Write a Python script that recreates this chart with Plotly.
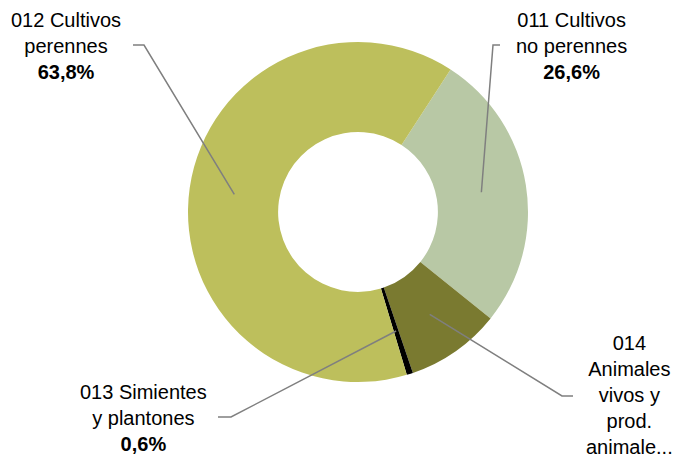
import math
import plotly.graph_objects as go

# ---- data ----
categories = ["011 Cultivos no perennes", "014 Animales vivos y prod. animales",
              "013 Simientes y plantones", "012 Cultivos perennes"]
shares = [26.6, 9.0, 0.6, 63.8]
label_texts = ["011 Cultivos<br>no perennes<br><b>26,6%</b>",
               "014<br>Animales<br>vivos y<br>prod.<br>animale...",
               "013 Simientes<br>y plantones<br><b>0,6%</b>",
               "012 Cultivos<br>perennes<br><b>63,8%</b>"]
colors = ["#B8C8A5", "#7A7A30", "#000000", "#BDBF5C"]

# ---- layout constants (pixels) ----
W, H = 675, 457
CX, CY, R = 358, 212, 170
HOLE = 0.47
ROT = 33
FONT = "Liberation Sans"
label_pos = [(571, 46), (629, 395), (143, 418), (66, 46)]
leader_start = [(500, 45), (573, 396), (218, 417), (133, 45)]
leader_elbow = [(493, 45), (562, 396), (231, 417), (144, 45)]

def px2paper(x, y):
    return x / W, (H - y) / H

cx0, cy0 = px2paper(CX - R, CY + R)
cx1, cy1 = px2paper(CX + R, CY - R)

fig = go.Figure(go.Pie(
    labels=categories, values=shares, sort=False, direction="clockwise",
    rotation=ROT, hole=HOLE, textinfo="none", hoverinfo="label+percent",
    marker=dict(colors=colors, line=dict(width=0)),
    domain=dict(x=[cx0, cx1], y=[cy0, cy1]),
    showlegend=False,
))

total = sum(shares)
cum = 0.0
shapes, annotations = [], []
rmid = R * (1 + HOLE) / 2
for i, v in enumerate(shares):
    mid = ROT + (cum + v / 2) / total * 360
    cum += v
    a = math.radians(mid)
    ex, ey = CX + rmid * math.sin(a), CY - rmid * math.cos(a)
    p0 = px2paper(*leader_start[i])
    p1 = px2paper(*leader_elbow[i])
    p2 = px2paper(ex, ey)
    shapes.append(dict(type="path", xref="paper", yref="paper",
                       path=f"M {p0[0]} {p0[1]} L {p1[0]} {p1[1]} L {p2[0]} {p2[1]}",
                       line=dict(color="#7F7F7F", width=1.5)))
    lx, ly = px2paper(*label_pos[i])
    annotations.append(dict(x=lx, y=ly, xref="paper", yref="paper", text=label_texts[i],
                            showarrow=False, align="center", xanchor="center", yanchor="middle",
                            font=dict(family=FONT, size=20, color="#000000")))

fig.update_layout(width=W, height=H, margin=dict(l=0, r=0, t=0, b=0),
                  paper_bgcolor="white", plot_bgcolor="white",
                  shapes=shapes, annotations=annotations)
fig.write_html("out.html", config={"displayModeBar": False},
               post_script="document.body.style.margin='0';document.body.style.overflow='hidden';")
